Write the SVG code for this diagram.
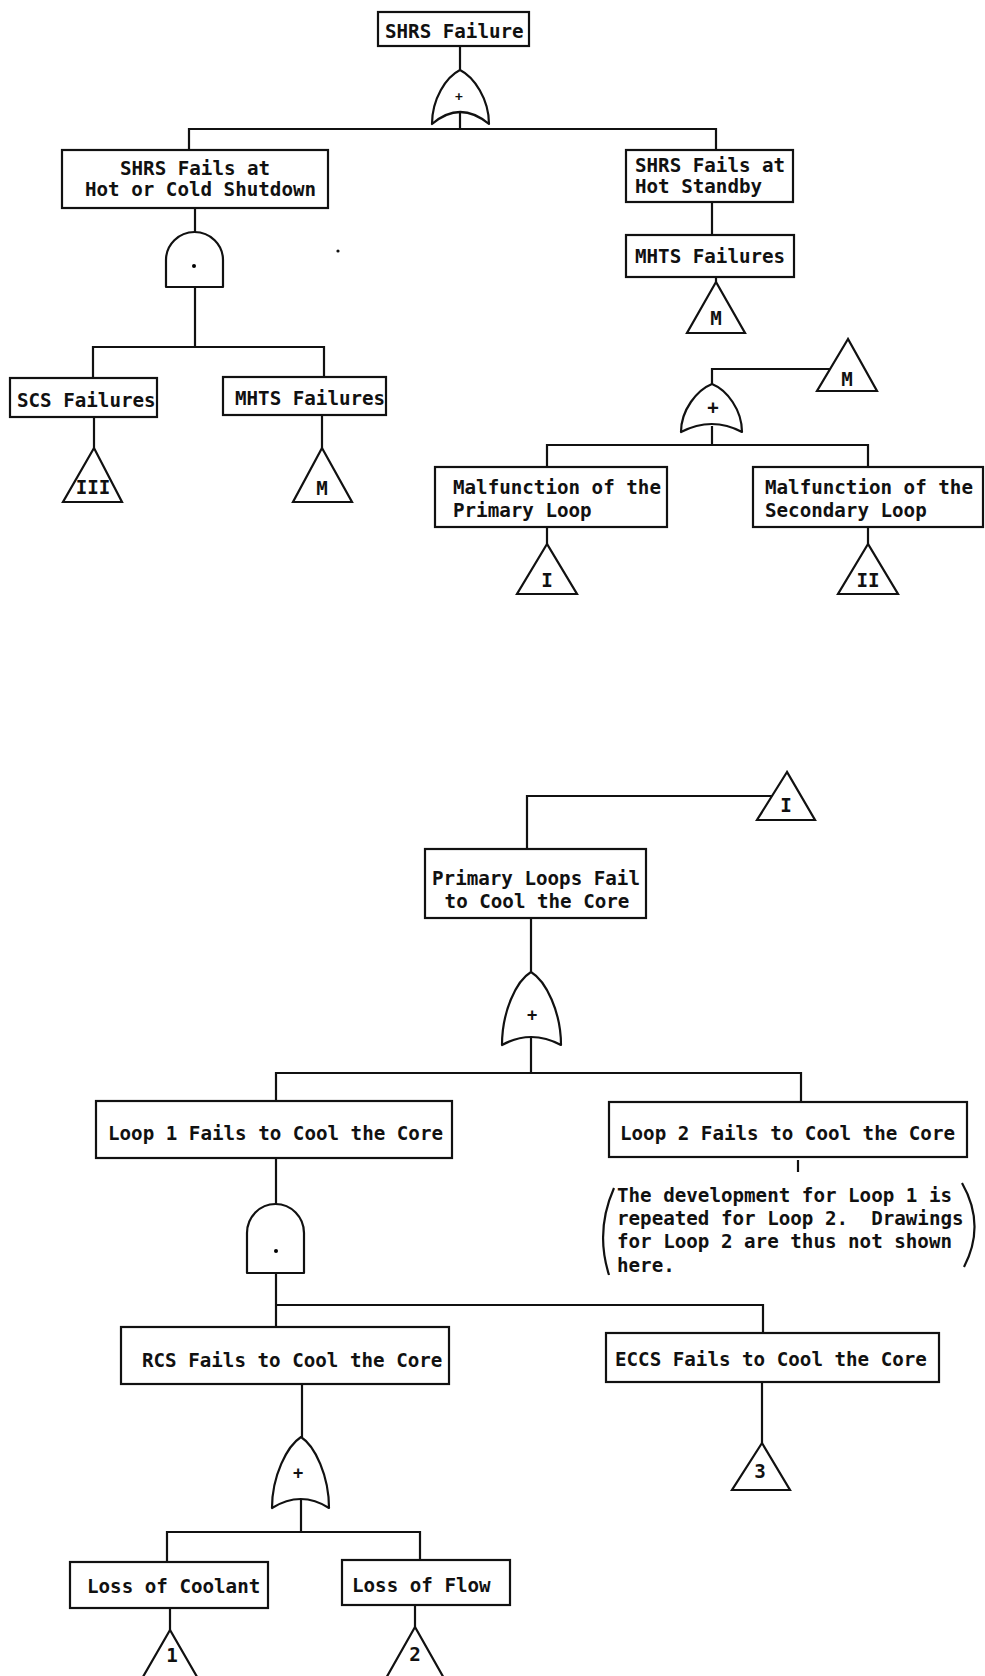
<svg xmlns="http://www.w3.org/2000/svg" width="985" height="1676" viewBox="0 0 985 1676">
<style>
.box{fill:#fff;stroke:#111;stroke-width:2.2}
.ln{fill:none;stroke:#111;stroke-width:2.2}
.gate{fill:#fff;stroke:#111;stroke-width:2.2;stroke-linejoin:round}
.tri{fill:#fff;stroke:#111;stroke-width:2.2;stroke-linejoin:miter}
.t{font-family:"DejaVu Sans Mono","Liberation Mono",monospace;font-weight:bold;font-size:19.2px;fill:#111;white-space:pre}
.c{text-anchor:middle}
.g{font-family:"DejaVu Sans Mono","Liberation Mono",monospace;font-weight:bold;fill:#111;text-anchor:middle}
</style>
<rect width="985" height="1676" fill="#fff"/>

<!-- connectors -->
<g id="connectors" class="ln">
  <path d="M460,46 V70"/>
  <path d="M460,112 V129"/>
  <path d="M189,150 V129 H716 V150"/>
  <path d="M195,208 V232"/>
  <path d="M195,287 V347"/>
  <path d="M93,378 V347 H324 V377"/>
  <path d="M94,417 V448"/>
  <path d="M322,415 V448"/>
  <path d="M712,202 V235"/>
  <path d="M716,277 V282"/>
  <path d="M831,369 H712 V384"/>
  <path d="M712,426 V445"/>
  <path d="M547,467 V445 H868 V467"/>
  <path d="M547,527 V544"/>
  <path d="M868,527 V544"/>
  <path d="M772,796 H527 V849"/>
  <path d="M531,918 V972"/>
  <path d="M531,1038 V1073"/>
  <path d="M276,1101 V1073 H801 V1102"/>
  <path d="M798,1160 V1172"/>
  <path d="M276,1158 V1204"/>
  <path d="M276,1273 V1327"/>
  <path d="M276,1305 H763 V1333"/>
  <path d="M302,1384 V1437"/>
  <path d="M301,1500 V1532"/>
  <path d="M167,1562 V1532 H420 V1560"/>
  <path d="M170,1608 V1630"/>
  <path d="M415,1605 V1627"/>
  <path d="M762,1382 V1443"/>
</g>

<!-- top event -->
<g id="shrs-failure">
  <rect class="box" x="378" y="12" width="151" height="34"/>
  <text class="t" x="385" y="38">SHRS Failure</text>
</g>
<g id="gate-or-top">
  <path class="gate" d="M432,124 C432,99 446,77 460,70 C474,77 489,99 489,124 Q460,100 432,124 Z"/>
  <text class="g" x="459" y="101" font-size="13">+</text>
</g>

<g id="shrs-shutdown">
  <rect class="box" x="62" y="150" width="266" height="58"/>
  <text class="t" x="120" y="175">SHRS Fails at</text>
  <text class="t" x="85" y="196">Hot or Cold Shutdown</text>
</g>
<g id="shrs-standby">
  <rect class="box" x="626" y="150" width="167" height="52"/>
  <text class="t" x="635" y="172">SHRS Fails at</text>
  <text class="t" x="635" y="193">Hot Standby</text>
</g>

<g id="gate-and-shutdown">
  <path class="gate" d="M166,287 V260 A28.5,28 0 0 1 223,260 V287 Z"/>
  <circle cx="194" cy="266" r="2"/>
</g>
<circle cx="338" cy="251" r="1.6" fill="#111"/>

<g id="mhts-standby">
  <rect class="box" x="626" y="235" width="168" height="42"/>
  <text class="t" x="635" y="263">MHTS Failures</text>
</g>
<g id="xfer-m-out-top">
  <polygon class="tri" points="716,282 687,333 745,333"/>
  <text class="t c" x="716" y="325">M</text>
</g>

<g id="scs-failures">
  <rect class="box" x="10" y="378" width="147" height="39"/>
  <text class="t" x="17" y="407">SCS Failures</text>
</g>
<g id="mhts-shutdown">
  <rect class="box" x="223" y="377" width="163" height="38"/>
  <text class="t" x="235" y="405">MHTS Failures</text>
</g>
<g id="xfer-iii">
  <polygon class="tri" points="94,448 63,502 122,502"/>
  <text class="t c" x="93" y="494">III</text>
</g>
<g id="xfer-m-shutdown">
  <polygon class="tri" points="322,448 293,502 352,502"/>
  <text class="t c" x="322" y="495">M</text>
</g>

<!-- MHTS development -->
<g id="xfer-m-in">
  <polygon class="tri" points="848,339 817,391 877,391"/>
  <text class="t c" x="847" y="386">M</text>
</g>
<g id="gate-or-mhts">
  <path class="gate" d="M681,432 C681,410 697,390 712,384 C727,390 742,410 742,432 Q712,416 681,432 Z"/>
  <text class="g" x="713" y="414" font-size="19">+</text>
</g>
<g id="primary-malfunction">
  <rect class="box" x="435" y="467" width="232" height="60"/>
  <text class="t" x="453" y="494">Malfunction of the</text>
  <text class="t" x="453" y="517">Primary Loop</text>
</g>
<g id="secondary-malfunction">
  <rect class="box" x="753" y="467" width="230" height="60"/>
  <text class="t" x="765" y="494">Malfunction of the</text>
  <text class="t" x="765" y="517">Secondary Loop</text>
</g>
<g id="xfer-i">
  <polygon class="tri" points="547,544 517,594 577,594"/>
  <text class="t c" x="547" y="587">I</text>
</g>
<g id="xfer-ii">
  <polygon class="tri" points="868,544 838,594 898,594"/>
  <text class="t c" x="868" y="587">II</text>
</g>

<!-- primary loop development -->
<g id="xfer-i-in">
  <polygon class="tri" points="787,772 757,820 815,820"/>
  <text class="t c" x="786" y="812">I</text>
</g>
<g id="primary-loops">
  <rect class="box" x="425" y="849" width="221" height="69"/>
  <text class="t c" x="536" y="885">Primary Loops Fail</text>
  <text class="t c" x="537" y="908">to Cool the Core</text>
</g>
<g id="gate-or-primary">
  <path class="gate" d="M502,1045 C502,1012 516,981 531,972 C546,981 561,1012 561,1045 Q531,1029 502,1045 Z"/>
  <text class="g" x="532" y="1021" font-size="17">+</text>
</g>
<g id="loop1">
  <rect class="box" x="96" y="1101" width="356" height="57"/>
  <text class="t" x="108" y="1140">Loop 1 Fails to Cool the Core</text>
</g>
<g id="loop2">
  <rect class="box" x="609" y="1102" width="358" height="55"/>
  <text class="t" x="620" y="1140">Loop 2 Fails to Cool the Core</text>
</g>
<g id="loop2-note">
  <path class="ln" d="M614,1188 Q595,1231 609,1275"/>
  <path class="ln" d="M962,1183 Q986,1225 964,1267"/>
  <text class="t" x="617" y="1202">The development for Loop 1 is</text>
  <text class="t" x="617" y="1225" xml:space="preserve">repeated for Loop 2.  Drawings</text>
  <text class="t" x="617" y="1248">for Loop 2 are thus not shown</text>
  <text class="t" x="617" y="1272">here.</text>
</g>
<g id="gate-and-loop1">
  <path class="gate" d="M247,1273 V1233 A28.5,29 0 0 1 304,1233 V1273 Z"/>
  <circle cx="276" cy="1251" r="2"/>
</g>
<g id="rcs">
  <rect class="box" x="121" y="1327" width="328" height="57"/>
  <text class="t" x="142" y="1367">RCS Fails to Cool the Core</text>
</g>
<g id="eccs">
  <rect class="box" x="606" y="1333" width="333" height="49"/>
  <text class="t" x="615" y="1366">ECCS Fails to Cool the Core</text>
</g>
<g id="xfer-3">
  <polygon class="tri" points="762,1443 732,1490 790,1490"/>
  <text class="t c" x="760" y="1478">3</text>
</g>
<g id="gate-or-rcs">
  <path class="gate" d="M272,1508 C272,1476 287,1446 301,1437 C315,1446 329,1476 329,1508 Q301,1490 272,1508 Z"/>
  <text class="g" x="298" y="1479" font-size="17">+</text>
</g>
<g id="loss-coolant">
  <rect class="box" x="70" y="1562" width="198" height="46"/>
  <text class="t" x="87" y="1593">Loss of Coolant</text>
</g>
<g id="loss-flow">
  <rect class="box" x="342" y="1560" width="168" height="45"/>
  <text class="t" x="352" y="1592">Loss of Flow</text>
</g>
<g id="xfer-1">
  <polygon class="tri" points="170,1630 140,1682 200,1682"/>
  <text class="t c" x="172" y="1662">1</text>
</g>
<g id="xfer-2">
  <polygon class="tri" points="415,1627 385,1680 445,1680"/>
  <text class="t c" x="415" y="1661">2</text>
</g>
</svg>
